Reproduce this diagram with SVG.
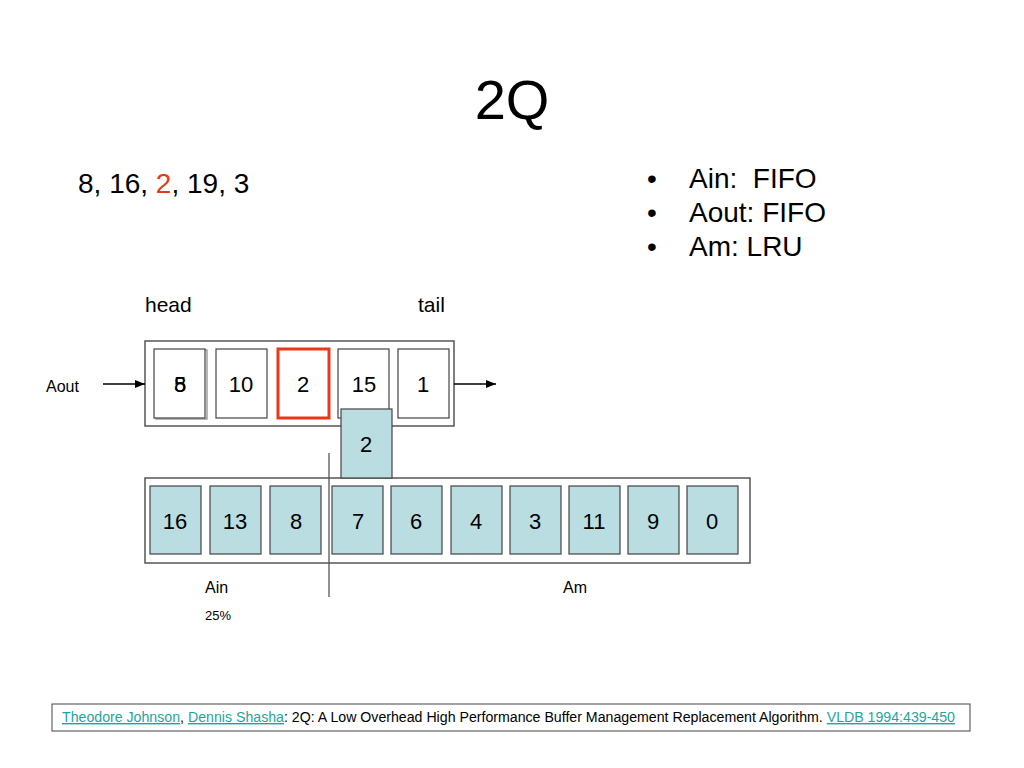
<svg xmlns="http://www.w3.org/2000/svg" width="1024" height="768" viewBox="0 0 1024 768">
<style>
text{font-family:"Liberation Sans",Arial,sans-serif;fill:#000}
.frame{fill:#fff;stroke:#555;stroke-width:1.5}
.cell{fill:#fff;stroke:#444;stroke-width:1.2}
.tcell{fill:#b9dde1;stroke:#444;stroke-width:1.2}
.num{font-size:22px;text-anchor:middle}
.lbl{font-size:16px}
.link{fill:#1fa59c;text-decoration:underline}
.conn{stroke:#000;stroke-width:1.3;fill:none}
</style>
<defs>
<marker id="ah" viewBox="0 0 10 10" refX="10" refY="5" markerWidth="10" markerHeight="10" markerUnits="userSpaceOnUse" orient="auto">
<path d="M0,1 L10,5 L0,9 z" fill="#000"/>
</marker>
</defs>
<rect width="1024" height="768" fill="#fff"/>
<text x="512" y="119" font-size="56" text-anchor="middle">2Q</text>
<text x="78" y="193" font-size="28">8, 16, <tspan fill="#e8381a">2</tspan>, 19, 3</text>
<g id="bullets" font-size="28">
<text x="647" y="188">•</text><text x="689" y="188">Ain:&#160; FIFO</text>
<text x="647" y="222">•</text><text x="689" y="222">Aout: FIFO</text>
<text x="647" y="256">•</text><text x="689" y="256">Am: LRU</text>
</g>
<text x="145" y="312" font-size="21">head</text>
<text x="418" y="312" font-size="21">tail</text>
<text x="46" y="392" class="lbl">Aout</text>
<g id="aout">
<rect class="frame" x="145" y="341" width="309" height="85"/>
<g id="aout-5"><rect class="cell" x="156" y="350" width="51" height="69" style="stroke:#888"/><rect class="cell" x="154" y="349" width="51" height="69"/><text class="num" x="180" y="392">5</text><text class="num" x="180" y="392">8</text></g>
<g id="aout-10"><rect class="cell" x="216" y="349" width="51" height="69"/><text class="num" x="241" y="392">10</text></g>
<g id="aout-2"><rect x="278" y="349" width="51" height="69" fill="#fff" stroke="#e8381a" stroke-width="3"/><text class="num" x="303" y="392">2</text></g>
<g id="aout-15"><rect class="cell" x="338" y="349" width="51" height="69"/><text class="num" x="364" y="392">15</text></g>
<g id="aout-1"><rect class="cell" x="398" y="349" width="51" height="69"/><text class="num" x="423" y="392">1</text></g>
</g>
<g id="am">
<rect class="frame" x="145" y="478" width="605" height="85"/>
<g id="c16"><rect class="tcell" x="150" y="486" width="51" height="68"/><text class="num" x="175" y="529">16</text></g>
<g id="c13"><rect class="tcell" x="210" y="486" width="51" height="68"/><text class="num" x="235" y="529">13</text></g>
<g id="c8"><rect class="tcell" x="270" y="486" width="51" height="68"/><text class="num" x="296" y="529">8</text></g>
<g id="c7"><rect class="tcell" x="332" y="486" width="51" height="68"/><text class="num" x="358" y="529">7</text></g>
<g id="c6"><rect class="tcell" x="391" y="486" width="51" height="68"/><text class="num" x="416" y="529">6</text></g>
<g id="c4"><rect class="tcell" x="451" y="486" width="51" height="68"/><text class="num" x="476" y="529">4</text></g>
<g id="c3"><rect class="tcell" x="510" y="486" width="51" height="68"/><text class="num" x="535" y="529">3</text></g>
<g id="c11"><rect class="tcell" x="569" y="486" width="51" height="68"/><text class="num" x="594" y="529">11</text></g>
<g id="c9"><rect class="tcell" x="628" y="486" width="51" height="68"/><text class="num" x="653" y="529">9</text></g>
<g id="c0"><rect class="tcell" x="687" y="486" width="51" height="68"/><text class="num" x="712" y="529">0</text></g>
</g>
<g id="moving-2"><rect class="tcell" x="341" y="409" width="51" height="69"/><text class="num" x="366" y="452">2</text></g>
<g id="connectors">
<line class="conn" x1="103" y1="384" x2="145" y2="384" marker-end="url(#ah)"/>
<line class="conn" x1="454" y1="384" x2="496" y2="384" marker-end="url(#ah)"/>
<line x1="329" y1="453" x2="329" y2="597" stroke="#555" stroke-width="1.3"/>
</g>
<text x="205" y="593" class="lbl">Ain</text>
<text x="563" y="593" class="lbl">Am</text>
<text x="205" y="620" font-size="13">25%</text>
<g id="footer">
<rect x="52" y="704" width="918" height="27" fill="#fff" stroke="#444" stroke-width="1"/>
<text x="62" y="722" font-size="14" textLength="893" lengthAdjust="spacingAndGlyphs"><tspan class="link">Theodore Johnson</tspan>, <tspan class="link">Dennis Shasha</tspan>: 2Q: A Low Overhead High Performance Buffer Management Replacement Algorithm. <tspan class="link">VLDB 1994:439-450</tspan></text>
</g>
</svg>
